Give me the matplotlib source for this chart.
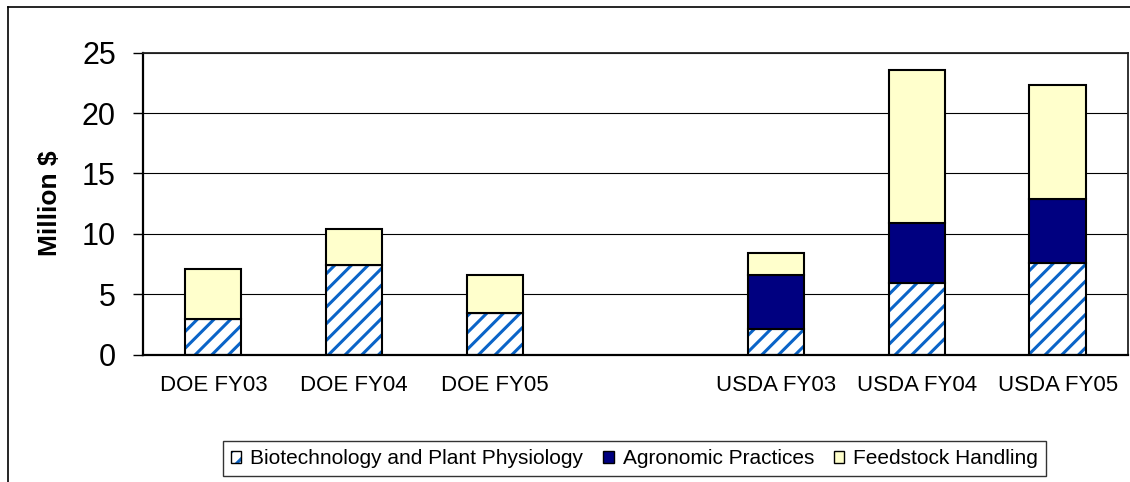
import numpy as np
import matplotlib
matplotlib.use("Agg")
import matplotlib.pyplot as plt
from matplotlib.patches import Patch, Rectangle
from matplotlib.lines import Line2D
from matplotlib.legend_handler import HandlerBase

categories = ["DOE FY03", "DOE FY04", "DOE FY05", "", "USDA FY03", "USDA FY04", "USDA FY05"]
biotech = [2.9, 7.4, 3.4, np.nan, 2.1, 5.9, 7.6]
agronomic = [0.0, 0.0, 0.0, np.nan, 4.5, 5.0, 5.3]
feedstock = [4.2, 3.0, 3.2, np.nan, 1.8, 12.7, 9.4]
series_names = ["Biotechnology and Plant Physiology", "Agronomic Practices", "Feedstock Handling"]
yticks = [0, 5, 10, 15, 20, 25]

plt.rcParams['font.family'] = ['Liberation Sans', 'DejaVu Sans']
plt.rcParams['hatch.linewidth'] = 2.2

W, H = 1130, 482
fig = plt.figure(figsize=(W / 100, H / 100), dpi=100)
ax = fig.add_axes([143 / W, 1 - 354.5 / H, (1128 - 143) / W, (354.5 - 52.7) / H])

x = np.arange(len(categories))
b = np.array(biotech, dtype=float)
a = np.array(agronomic, dtype=float)
f = np.array(feedstock, dtype=float)
width = 0.40
hatch_blue = '#0A64C8'
navy = '#000080'
yellow = '#FFFFCC'

ax.set_axisbelow(True)
ax.yaxis.grid(True, color='black', linewidth=0.8)

# biotech: hatch layer then black outline
ax.bar(x, b, width, color='white', edgecolor=hatch_blue, hatch='//', linewidth=0, zorder=2)
ax.bar(x, b, width, color='none', edgecolor='black', linewidth=1.5, zorder=3)
ax.bar(x, a, width, bottom=b, color=navy, edgecolor='black', linewidth=1.5, zorder=3)
ax.bar(x, f, width, bottom=b + a, color=yellow, edgecolor='black', linewidth=1.5, zorder=3)

ax.set_xlim(-0.5, len(categories) - 0.5)
ax.set_ylim(0, 25)
ax.set_yticks(yticks)
ax.set_yticklabels([str(t) for t in yticks], fontsize=22)
ax.set_xticks(x)
ax.set_xticklabels(categories, fontsize=16)
ax.tick_params(axis='x', length=0, pad=15)
ax.tick_params(axis='y', length=7.5, width=1.0, pad=12, direction='out', color='black')

for s in ['left', 'bottom']:
    ax.spines[s].set_color('black')
    ax.spines[s].set_linewidth(1.6)
for s in ['top', 'right']:
    ax.spines[s].set_color('#222222')
    ax.spines[s].set_linewidth(1.3)

fig.text(50 / W, 1 - 203 / H, "Million $", rotation=90, ha='center', va='center',
         fontsize=19, fontweight='bold')

# outer chart border (left and top visible)
fig.add_artist(Line2D([8 / W, 8 / W], [0, 1 - 7 / H], transform=fig.transFigure,
                      color='black', linewidth=1.2))
fig.add_artist(Line2D([8 / W, 1], [1 - 7 / H, 1 - 7 / H], transform=fig.transFigure,
                      color='black', linewidth=1.2))


class HatchHandler(HandlerBase):
    def create_artists(self, legend, orig_handle, xdescent, ydescent, width, height,
                       fontsize, trans):
        r1 = Rectangle((-xdescent, -ydescent), width, height, facecolor='white',
                       edgecolor=hatch_blue, hatch='//', linewidth=0, transform=trans)
        r2 = Rectangle((-xdescent, -ydescent), width, height, facecolor='none',
                       edgecolor='black', linewidth=1.0, transform=trans)
        return [r1, r2]


h1 = Patch(facecolor='white', edgecolor='black', label=series_names[0])
h2 = Patch(facecolor=navy, edgecolor='black', linewidth=1.0)
h3 = Patch(facecolor=yellow, edgecolor='black', linewidth=1.0)
leg = fig.legend([h1, h2, h3], series_names, loc='center',
                 bbox_to_anchor=((221 + 1048) / 2 / W, 1 - (438 + 479) / 2 / H),
                 ncol=3, fontsize=15, frameon=True, fancybox=False, shadow=False,
                 handlelength=0.5, handleheight=0.5, handletextpad=0.43,
                 columnspacing=0.95, borderpad=0.38,
                 handler_map={h1: HatchHandler()})
leg.get_frame().set_edgecolor('black')
leg.get_frame().set_linewidth(1.0)

fig.savefig("out.png", dpi=100)
